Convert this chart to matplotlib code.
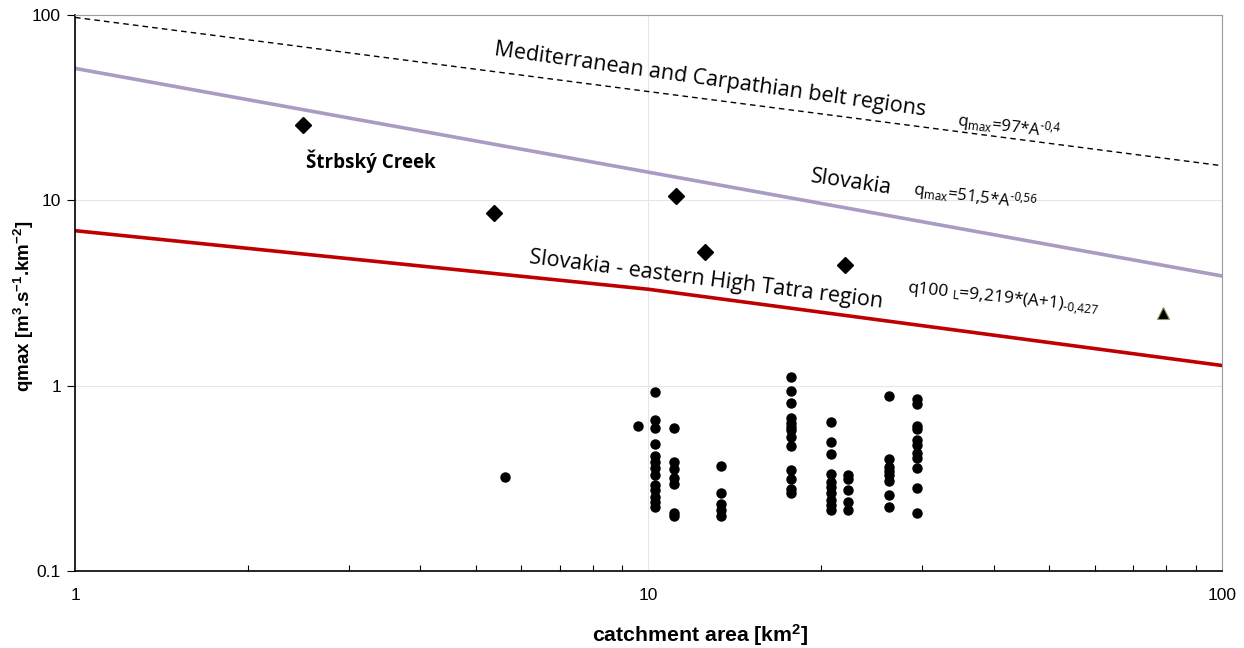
import numpy as np
import matplotlib
matplotlib.use("Agg")
import matplotlib.pyplot as plt
from matplotlib.ticker import LogLocator, NullFormatter, FixedLocator, FixedFormatter

plt.rcParams["mathtext.fontset"] = "custom"
plt.rcParams["mathtext.rm"] = "Open Sans"
plt.rcParams["mathtext.it"] = "Open Sans:italic"
plt.rcParams["mathtext.bf"] = "Open Sans:bold"

# envelope curves, evaluated at 1, 10 and 100 km2
A_env = [1, 10, 100]
q_med = [97 * a ** -0.4 for a in A_env]
q_sk = [51.5 * a ** -0.56 for a in A_env]
q_tatra = [9.219 * (a + 1) ** -0.427 for a in A_env]

# historical peak specific discharges (diamonds)
hist_A = [2.50, 5.38, 11.17, 12.55, 22.0]
hist_q = [25.5, 8.54, 10.55, 5.26, 4.48]

# single reference point (triangle)
tri_A = [78.9]
tri_q = [2.47]

# observed annual maxima per catchment
obs = {
    5.62: [0.321],
    9.60: [0.603],
    10.26: [0.92, 0.65, 0.588, 0.482, 0.417, 0.389, 0.358, 0.329, 0.291, 0.273, 0.252, 0.236, 0.222],
    11.07: [0.588, 0.389, 0.354, 0.316, 0.294, 0.205, 0.199],
    13.36: [0.370, 0.262, 0.230, 0.213, 0.199],
    17.72: [1.118, 0.935, 0.806, 0.671, 0.626, 0.600, 0.576, 0.530, 0.474, 0.350, 0.315, 0.276, 0.262],
    20.81: [0.639, 0.498, 0.428, 0.333, 0.301, 0.285, 0.262, 0.241, 0.227, 0.213],
    22.24: [0.329, 0.313, 0.273, 0.236, 0.213],
    26.23: [0.879, 0.403, 0.365, 0.346, 0.329, 0.307, 0.257, 0.221],
    29.36: [0.843, 0.793, 0.608, 0.583, 0.509, 0.478, 0.431, 0.405, 0.358, 0.279, 0.206],
}
obs_A = [a for a, qs in obs.items() for q in qs]
obs_q = [q for a, qs in obs.items() for q in qs]

lab_font = "Open Sans"

fig = plt.figure(figsize=(12.44, 6.48), dpi=100)
ax = fig.add_axes([0.0603, 0.1188, 0.9220, 0.8581])
ax.set_xscale("log")
ax.set_yscale("log")
ax.set_xlim(1, 100)
ax.set_ylim(0.1, 100)

ax.grid(True, which="major", color="#e6e6e6", lw=0.8)
ax.set_axisbelow(True)

ax.plot(A_env, q_med, color="black", lw=1.0, ls=(0, (4, 3)), zorder=2)
ax.plot(A_env, q_sk, color="#A99BC2", lw=2.6, zorder=2)
ax.plot(A_env, q_tatra, color="#C00000", lw=2.6, zorder=2)

ax.plot(obs_A, obs_q, "o", color="black", ms=6.5, zorder=3)
ax.plot(hist_A, hist_q, "D", color="black", ms=8.5, zorder=3)
ax.plot(tri_A, tri_q, "^", color="black", mec="#8a9a5b", mew=0.8, ms=8, zorder=3)

ax.text(12.8, 44.6, "Mediterranean and Carpathian belt regions", rotation=-8,
        ha="center", va="center", fontsize=15.5, family=lab_font)
ax.text(42.5, 24.9, r"q$_{\text{max}}$=97*A$^{\text{-0,4}}$", rotation=-7,
        ha="center", va="center", fontsize=12, family=lab_font)
ax.text(22.6, 12.4, "Slovakia", rotation=-8.5,
        ha="center", va="center", fontsize=15.5, family=lab_font)
ax.text(37.1, 10.4, r"q$_{\text{max}}$=51,5*A$^{\text{-0,56}}$", rotation=-7,
        ha="center", va="center", fontsize=12, family=lab_font)
ax.text(12.6, 3.72, "Slovakia - eastern High Tatra region", rotation=-7.2,
        ha="center", va="center", fontsize=15.5, family=lab_font)
ax.text(41.5, 2.90, r"q100 $_{\text{L}}$=9,219*(A+1)$_{\text{-0,427}}$", rotation=-6,
        ha="center", va="center", fontsize=12.5, family=lab_font)
ax.text(3.28, 16.3, "Štrbský Creek", ha="center", va="center",
        fontsize=13.5, fontweight="bold", family=lab_font)

# axes styling
ax.yaxis.set_major_locator(FixedLocator([0.1, 1, 10, 100]))
ax.yaxis.set_major_formatter(FixedFormatter(["0.1", "1", "10", "100"]))
ax.yaxis.set_minor_locator(FixedLocator([]))
ax.xaxis.set_major_locator(FixedLocator([1, 10, 100]))
ax.xaxis.set_major_formatter(FixedFormatter(["1", "10", "100"]))
ax.xaxis.set_minor_locator(LogLocator(base=10, subs=np.arange(2, 10)))
ax.xaxis.set_minor_formatter(NullFormatter())
ax.tick_params(axis="y", which="major", direction="out", length=6, width=0.8,
               labelsize=12.5, pad=4)
ax.tick_params(axis="x", which="major", direction="in", length=0, width=0.8,
               labelsize=12.5, pad=12)
ax.tick_params(axis="x", which="minor", direction="in", length=4.5, width=0.8)
for lab in ax.get_xticklabels() + ax.get_yticklabels():
    lab.set_family("Liberation Sans")

ax.spines["left"].set_color("black")
ax.spines["bottom"].set_color("black")
ax.spines["left"].set_linewidth(1.2)
ax.spines["bottom"].set_linewidth(1.2)
ax.spines["top"].set_color("#9a9a9a")
ax.spines["right"].set_color("#9a9a9a")

fig.text(700 / 1244, 1 - 635 / 648, r"catchment area [km$\mathregular{^2}$]",
         ha="center", va="center", fontsize=15.3, fontweight="bold",
         family="Liberation Sans")
fig.text(24 / 1244, 1 - 306 / 648,
         r"qmax [m$\mathregular{^3}$.s$\mathregular{^{-1}}$.km$\mathregular{^{-2}}$]",
         ha="center", va="center", rotation=90, fontsize=13.5, fontweight="bold",
         family="Liberation Sans")

fig.savefig("out.png", dpi=100)
